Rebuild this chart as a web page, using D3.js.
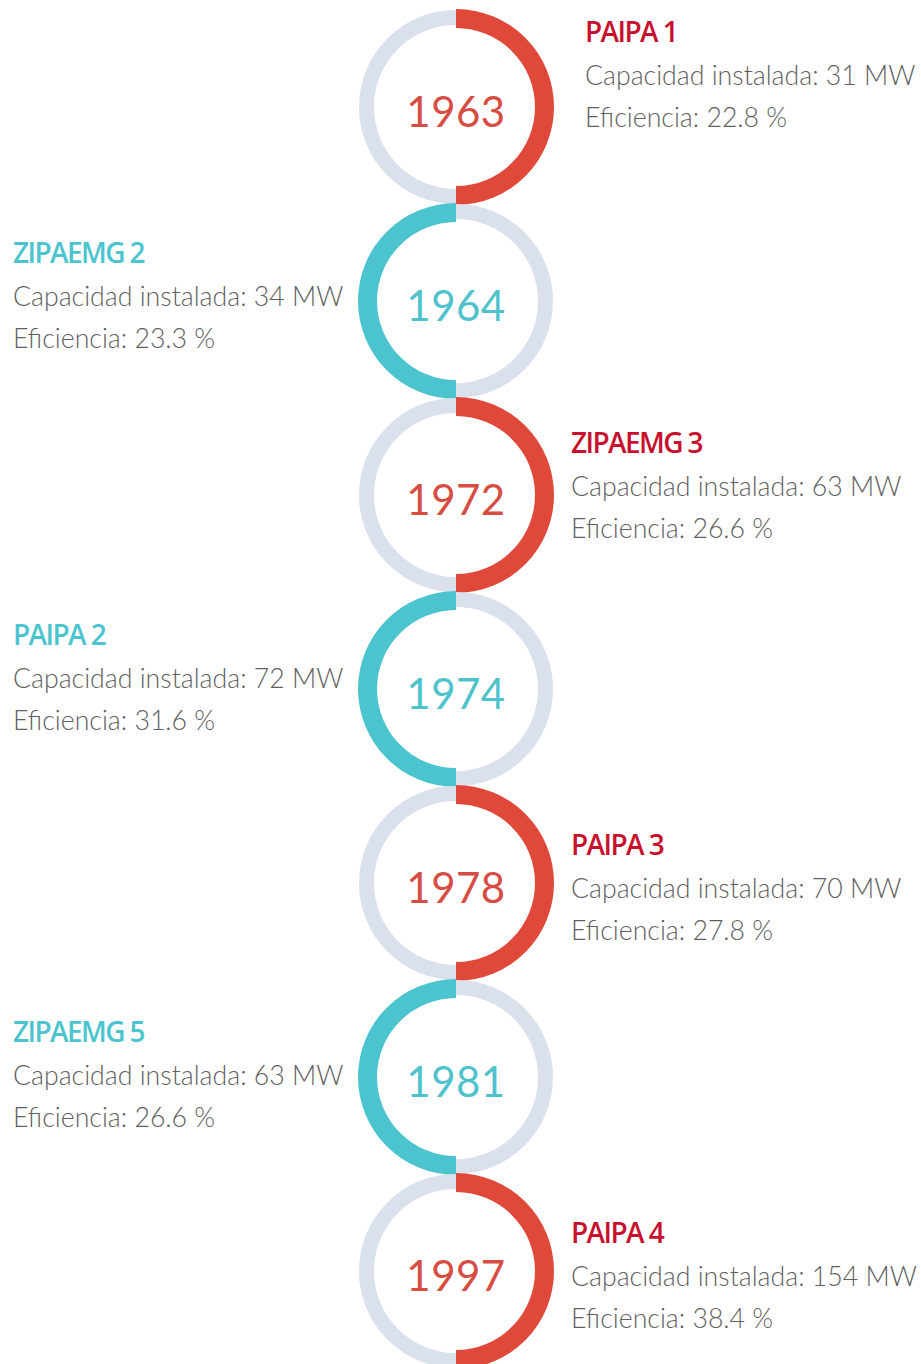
<!DOCTYPE html>
<html>
<head>
<meta charset="utf-8">
<script src="https://cdn.jsdelivr.net/npm/d3@7"></script>
<style>
  body { margin: 0; background: #fff; }
  svg { display: block; }
</style>
</head>
<body>
<div id="chart"></div>
<script>
// data
const years = [1963, 1964, 1972, 1974, 1978, 1981, 1997];
const plants = ["PAIPA 1", "ZIPAEMG 2", "ZIPAEMG 3", "PAIPA 2", "PAIPA 3", "ZIPAEMG 5", "PAIPA 4"];
const capacity = [31, 34, 63, 72, 70, 63, 154];
const efficiency = [22.8, 23.3, 26.6, 31.6, 27.8, 26.6, 38.4];

// small layout nudges for the label blocks (title baseline offset from ring centre)
const labelDy = [-65, -38, -42, -44, -28, -35, -28];
const labelDx = [14, 0, 0, 0, 0, 0, 0];

const width = 921, height = 1364;
const cx = 456;
const red = "#e0483a", teal = "#4cc4cf", grey = "#dbe1ec";
const redTitle = "#c8102e";

const svg = d3.select("#chart").append("svg")
    .attr("width", width)
    .attr("height", height);

// one ring per year, stacked from top to bottom
const y = d3.scalePoint()
    .domain(years)
    .range([107, 1271]);

const rows = years.map((yr, i) => ({
    year: yr, plant: plants[i], cap: capacity[i], eff: efficiency[i],
    right: i % 2 === 0, dx: labelDx[i], dy: labelDy[i]
}));

const greyArc = d3.arc().innerRadius(82).outerRadius(97).startAngle(0).endAngle(2 * Math.PI);
const halfArc = d3.arc().innerRadius(79).outerRadius(98);

const g = svg.selectAll("g.item")
    .data(rows)
    .enter().append("g")
    .attr("class", "item")
    .attr("transform", d => "translate(" + cx + "," + y(d.year) + ")");

g.append("path")
    .attr("d", greyArc)
    .attr("fill", grey);

g.append("path")
    .attr("d", d => d.right
        ? halfArc({startAngle: 0, endAngle: Math.PI})
        : halfArc({startAngle: Math.PI, endAngle: 2 * Math.PI}))
    .attr("fill", d => d.right ? red : teal);

g.append("text")
    .attr("text-anchor", "middle")
    .attr("y", 20)
    .attr("font-family", "Lato, sans-serif")
    .attr("font-weight", 400)
    .attr("font-size", 42)
    .attr("letter-spacing", 0.5)
    .attr("fill", d => d.right ? "#d64d43" : "#4fc3cd")
    .text(d => d.year);

// label blocks
const lab = svg.selectAll("g.label")
    .data(rows)
    .enter().append("g")
    .attr("class", "label")
    .attr("transform", d => "translate(" + ((d.right ? 571 : 13) + d.dx) + "," + (y(d.year) + d.dy) + ")");

lab.append("text")
    .attr("font-family", "'Open Sans', sans-serif")
    .attr("font-weight", 600)
    .attr("font-size", 28)
    .attr("letter-spacing", -1.6)
    .attr("fill", d => d.right ? redTitle : teal)
    .text(d => d.plant);

lab.append("text")
    .attr("y", 43)
    .attr("font-family", "Lato, sans-serif")
    .attr("font-weight", 300)
    .attr("font-size", 26.7)
    .attr("fill", "#5f5f5f")
    .text(d => "Capacidad instalada: " + d.cap + " MW");

lab.append("text")
    .attr("y", 85)
    .attr("font-family", "Lato, sans-serif")
    .attr("font-weight", 300)
    .attr("font-size", 26.7)
    .attr("fill", "#5f5f5f")
    .text(d => "Eficiencia: " + d.eff + " %");
</script>
</body>
</html>
